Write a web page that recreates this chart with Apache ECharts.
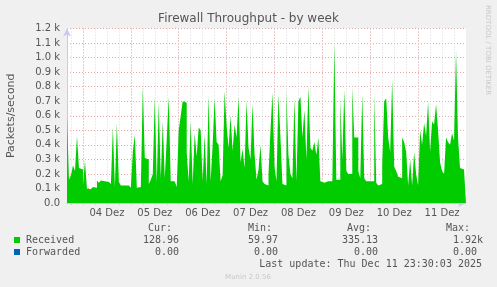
<!DOCTYPE html>
<html><head><meta charset="utf-8">
<script src="https://cdn.jsdelivr.net/npm/echarts@6/dist/echarts.min.js"></script>
<style>html,body{margin:0;padding:0;background:#f0f0f0}#c{width:497px;height:287px}</style>
</head><body><div id="c"></div>
<script>
// time axis: hours relative to 04 Dez 00:00, one sample per hour
const startHour = -8;
const endHour = 192;
const stepHours = 1;
const received = [
 600,160,190,260,220,460,240,230,120,290, 100,95,100,110,105,155,140,155,150,150,
 145,145,130,520,110,550,145,120,120,125, 120,115,105,350,470,105,110,105,800,310,
 300,130,160,200,730,140,690,170,560,170, 440,730,150,150,140,110,500,600,700,690,
 350,150,560,130,480,320,520,500,150,470, 130,740,150,400,720,420,400,150,190,770,
 530,380,600,360,540,450,730,280,370,240, 700,380,300,680,340,160,230,400,150,130,
 120,200,500,760,250,150,750,450,130,120, 770,330,200,170,720,150,700,730,450,640,
 300,800,380,360,420,330,450,150,140,140, 150,150,150,150,1100,160,160,720,300,780,
 220,200,200,800,450,450,220,170,750,170, 150,150,150,150,760,140,120,130,260,700,
 720,450,350,850,250,220,180,170,450,420, 350,120,300,120,350,200,120,500,400,550,
 460,700,350,560,540,680,500,280,220,200, 450,420,400,480,430,1050,450,240,230,230
];
const dayLabels = ['04 Dez','05 Dez','06 Dez','07 Dez','08 Dez','09 Dez','10 Dez','11 Dez'];
const yMax = 1200, yStep = 100;
const legendNames = ['Received','Forwarded'];
const legendColors = ['#00cc00','#0066b3'];
const statHeaders = ['Cur:','Min:','Avg:','Max:'];
const statReceived = ['128.96','59.97','335.13','1.92k'];
const statForwarded = ['0.00','0.00','0.00','0.00'];
const lastUpdate = 'Last update: Thu Dec 11 23:30:03 2025';

const minorTicks = [], majorTicks = [], labelTicks = [];
for (let h = -6; h < endHour; h += 6) minorTicks.push(h);
for (let h = 0; h < endHour; h += 24) majorTicks.push(h);
dayLabels.forEach((d, k) => labelTicks.push(12 + 24 * k));

const seriesData = received.map((v, i) => [startHour + i * stepHours, v]);
seriesData.push([startHour + received.length * stepHours, received[received.length - 1]]);

const chart = echarts.init(document.getElementById('c'), null, {renderer: 'canvas'});
const gray = '#555';
const mono = 'DejaVu Sans Mono';
const sans = 'DejaVu Sans';
const headerRight = [172, 272, 371, 470];
const valueRight = [179, 278, 378, 477];
const graphics = [];
legendNames.forEach((n, k) => {
  const y = 240 + k * 12;
  graphics.push({type: 'rect', shape: {x: 14, y: y - 3, width: 6, height: 6}, style: {fill: legendColors[k]}});
  graphics.push({type: 'text', x: 26, y: y, style: {text: n, font: '10px ' + mono, fill: gray, textVerticalAlign: 'middle'}});
});
statHeaders.forEach((h, k) => {
  graphics.push({type: 'text', x: headerRight[k], y: 228, style: {text: h, font: '10px ' + mono, fill: gray, textAlign: 'right', textVerticalAlign: 'middle'}});
  const r = statReceived[k], f = statForwarded[k];
  const rx = valueRight[k] + (/[a-z]$/i.test(r) ? 6 : 0);
  graphics.push({type: 'text', x: rx, y: 240, style: {text: r, font: '10px ' + mono, fill: gray, textAlign: 'right', textVerticalAlign: 'middle'}});
  graphics.push({type: 'text', x: valueRight[k], y: 252, style: {text: f, font: '10px ' + mono, fill: gray, textAlign: 'right', textVerticalAlign: 'middle'}});
});
graphics.push({type: 'text', x: 482, y: 264, style: {text: lastUpdate, font: '10px ' + mono, fill: gray, textAlign: 'right', textVerticalAlign: 'middle'}});
graphics.push({type: 'text', x: 248, y: 277, style: {text: 'Munin 2.0.56', font: '7px ' + sans, fill: '#c8c8c8', textAlign: 'center', textVerticalAlign: 'middle'}});
graphics.push({type: 'text', x: 488, y: 5, rotation: -Math.PI / 2, style: {text: 'RRDTOOL / TOBI OETIKER', font: '7px ' + sans, fill: '#c8c8c8', textAlign: 'left', textVerticalAlign: 'middle'}});

chart.setOption({
  animation: false,
  backgroundColor: '#f0f0f0',
  title: {text: 'Firewall Throughput - by week', left: 'center', top: 13, padding: 0,
    textStyle: {fontFamily: sans, fontSize: 12, fontWeight: 'normal', color: gray}},
  grid: {left: 67, right: 31, top: 28.5, bottom: 84, show: true, backgroundColor: '#ffffff', borderWidth: 0,
    containLabel: false, outerBoundsMode: 'none'},
  xAxis: [{
    type: 'value', min: startHour, max: endHour, position: 'bottom',
    axisLine: {show: true, onZero: false, lineStyle: {color: '#c8c8f0', width: 1}, symbol: ['none', 'arrow'], symbolSize: [6, 8]},
    axisTick: {show: true, customValues: minorTicks, length: 2, lineStyle: {color: '#cccccc'}},
    axisLabel: {customValues: labelTicks, formatter: v => dayLabels[Math.round((v - 12) / 24)],
      fontFamily: sans, fontSize: 10, color: gray, margin: 5},
    splitLine: {show: true, lineStyle: {color: '#d8d8d8', type: [1, 2], width: 1}}
  }, {
    type: 'value', min: startHour, max: endHour, position: 'top',
    axisLine: {show: false}, axisLabel: {show: false},
    axisTick: {show: false, customValues: majorTicks},
    splitLine: {show: true, lineStyle: {color: '#e8a8a8', type: [1, 2], width: 1}}
  }],
  yAxis: {
    type: 'value', min: 0, max: yMax, interval: yStep,
    name: 'Packets/second', nameLocation: 'middle', nameRotate: 90, nameGap: 50,
    nameTextStyle: {fontFamily: sans, fontSize: 11, color: gray},
    axisLine: {show: true, onZero: false, lineStyle: {color: '#c8c8f0'}, symbol: ['none', 'arrow'], symbolSize: [6, 8]},
    axisTick: {show: false},
    axisLabel: {formatter: v => v === 0 ? '0.0' : (v / 1000).toFixed(1) + ' k',
      fontFamily: sans, fontSize: 10, color: gray, margin: 7},
    splitLine: {show: true, lineStyle: {color: '#e8a8a8', type: [1, 2], width: 1}}
  },
  series: [{
    type: 'line', name: 'Received', xAxisIndex: 0, step: 'end', symbol: 'none',
    data: seriesData, lineStyle: {width: 0}, areaStyle: {color: '#00cc00', opacity: 1}, z: 3
  }],
  graphic: graphics
});
</script></body></html>
